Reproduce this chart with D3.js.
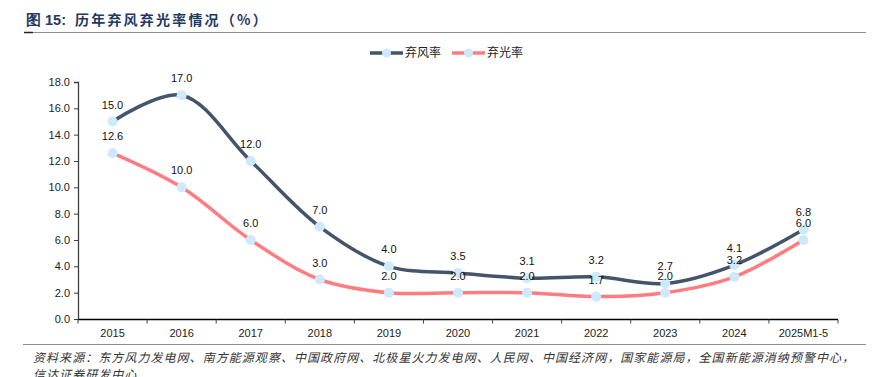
<!DOCTYPE html>
<html><head><meta charset="utf-8">
<script src="https://cdn.jsdelivr.net/npm/d3@7"></script>
<style>
body{margin:0;background:#fff;}
svg{display:block;}
</style></head>
<body>
<svg id="chart" width="874" height="377"></svg>
<script>
const categories = ["2015","2016","2017","2018","2019","2020","2021","2022","2023","2024","2025M1-5"];
const windRate = [15.0,17.0,12.0,7.0,4.0,3.5,3.1,3.2,2.7,4.1,6.8];
const solarRate = [12.6,10.0,6.0,3.0,2.0,2.0,2.0,1.7,2.0,3.2,6.0];
const yTicks = [0,2,4,6,8,10,12,14,16,18];
const seriesNames = ["弃风率","弃光率"];
const titlePrefix = "图 15:";
const titleText = "历年弃风弃光率情况（%）";
const sourceLine1 = "资料来源：东方风力发电网、南方能源观察、中国政府网、北极星火力发电网、人民网、中国经济网，国家能源局，全国新能源消纳预警中心，";
const sourceLine2 = "信达证券研发中心";

const svg = d3.select("#chart");
const font = "Arial, 'Liberation Sans', sans-serif";
const cjk = "'Noto Sans CJK SC', sans-serif";
const windColor = "#44546A", solarColor = "#FF7C80", markerColor = "#CDE9FB";

// title
svg.append("text").attr("x",26).attr("y",25).attr("font-family",font).attr("font-weight","bold")
  .attr("font-size",14.5).attr("fill","#1F3864").text(titlePrefix);
svg.append("text").attr("x",75).attr("y",25).attr("font-family",cjk).attr("font-weight","bold")
  .attr("font-size",14).attr("letter-spacing",2.2).attr("fill","#1F3864").text(titleText);
svg.append("line").attr("x1",24).attr("x2",866).attr("y1",32.5).attr("y2",32.5).attr("stroke","#8c8c8c").attr("stroke-width",1);
svg.append("line").attr("x1",24).attr("x2",33).attr("y1",32.5).attr("y2",32.5).attr("stroke","#222").attr("stroke-width",1.5);

const x = d3.scaleBand().domain(categories).range([78,838]);
const y = d3.scaleLinear().domain([0,18]).range([319,82]);

// axes
const yAxis = d3.axisLeft(y).tickValues(yTicks).tickFormat(d3.format(".1f")).tickSize(4);
const gy = svg.append("g").attr("transform","translate(78,0)").call(yAxis);
gy.select(".domain").attr("stroke","#404040").attr("stroke-width",1.3).attr("d","M-4,82.5H0.5V319.5");
gy.selectAll(".tick line").attr("stroke","#404040");
gy.selectAll("text").attr("font-family",font).attr("font-size",11).attr("fill","#222").attr("x",-8);

const gx = svg.append("g").attr("transform","translate(0,319.5)");
gx.append("line").attr("x1",78).attr("x2",838).attr("stroke","#000").attr("stroke-width",1.3);
const bounds = categories.map(c=>x(c)).concat([x.range()[1]]);
gx.selectAll("line.t").data(bounds).enter().append("line").attr("class","t")
  .attr("x1",d=>d).attr("x2",d=>d).attr("y1",0).attr("y2",4).attr("stroke","#404040");
gx.selectAll("text").data(categories).enter().append("text")
  .attr("x",d=>x(d)+x.bandwidth()/2).attr("y",17).attr("text-anchor","middle")
  .attr("font-family",font).attr("font-size",11).attr("fill","#222").text(d=>d);

// lines
const cx = (i)=>x(categories[i])+x.bandwidth()/2;
const line = d3.line().x((d,i)=>cx(i)).y(d=>y(d)).curve(d3.curveCatmullRom.alpha(0.5));
svg.append("path").attr("d",line(windRate)).attr("fill","none").attr("stroke",windColor).attr("stroke-width",3.5);
svg.append("path").attr("d",line(solarRate)).attr("fill","none").attr("stroke",solarColor).attr("stroke-width",3.5);

[windRate, solarRate].forEach(arr=>{
  svg.append("g").selectAll("circle").data(arr).enter().append("circle")
    .attr("cx",(d,i)=>cx(i)).attr("cy",d=>y(d)).attr("r",5).attr("fill",markerColor);
});
[windRate, solarRate].forEach(arr=>{
  svg.append("g").selectAll("text").data(arr).enter().append("text")
    .attr("x",(d,i)=>cx(i)).attr("y",d=>y(d)-13).attr("text-anchor","middle")
    .attr("font-family",font).attr("font-size",11).attr("fill","#111").text(d=>d.toFixed(1));
});

// legend
const leg = [{n:seriesNames[0],c:windColor,x:370},{n:seriesNames[1],c:solarColor,x:452}];
leg.forEach(l=>{
  svg.append("line").attr("x1",l.x).attr("x2",l.x+33).attr("y1",53).attr("y2",53).attr("stroke",l.c).attr("stroke-width",3.5);
  svg.append("circle").attr("cx",l.x+16.5).attr("cy",53).attr("r",4.5).attr("fill",markerColor);
  svg.append("text").attr("x",l.x+35).attr("y",57).attr("font-family",cjk).attr("font-size",12).attr("fill","#222").text(l.n);
});

// footer
svg.append("line").attr("x1",23).attr("x2",866).attr("y1",344.5).attr("y2",344.5).attr("stroke","#8c8c8c").attr("stroke-width",1);
svg.append("text").attr("x",33).attr("y",362).attr("font-family",cjk).attr("font-style","italic")
  .attr("font-size",12).attr("letter-spacing",1.05).attr("fill","#333").text(sourceLine1);
svg.append("text").attr("x",33).attr("y",379).attr("font-family",cjk).attr("font-style","italic")
  .attr("font-size",12).attr("letter-spacing",1.05).attr("fill","#333").text(sourceLine2);
</script>
</body></html>
